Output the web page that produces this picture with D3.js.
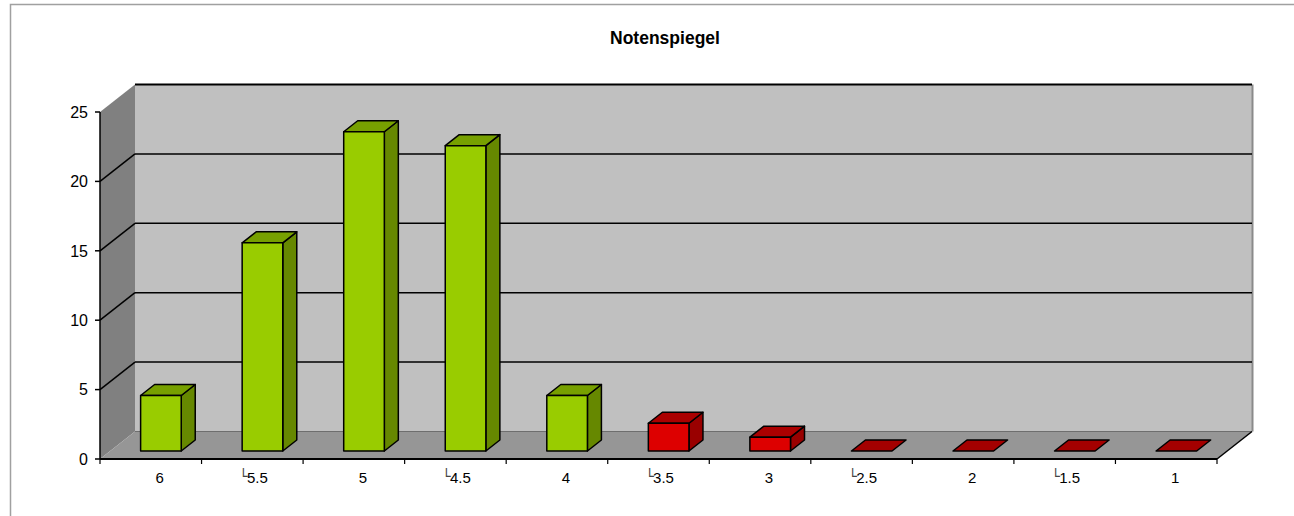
<!DOCTYPE html>
<html>
<head>
<meta charset="utf-8">
<script src="https://cdn.jsdelivr.net/npm/d3@7/dist/d3.min.js"></script>
<style>
  html, body { margin: 0; padding: 0; background: #fff; }
  svg { display: block; font-family: Arial, "Liberation Sans", sans-serif; }
</style>
</head>
<body>
<svg id="chart" width="1294" height="516"></svg>
<script>
// ---- data ----
const title = "Notenspiegel";
const categories = ["6", "\u25145.5", "5", "\u25144.5", "4", "\u25143.5", "3", "\u25142.5", "2", "\u25141.5", "1"];
const values = [4, 15, 23, 22, 4, 2, 1, 0, 0, 0, 0];
const yTicks = [0, 5, 10, 15, 20, 25];
const passMark = 4;

// ---- layout ----
const W = 1294, H = 516;
const plot = { left: 100, right: 1217, bottom: 459, top: 112 };
const depth = { dx: 35, dy: -27.5 };
const barFront = 0.29, barBack = 0.69;

const svg = d3.select("#chart");

const x = d3.scaleBand().domain(categories)
  .range([plot.left, plot.right]).paddingInner(0.6).paddingOuter(0.3);
const y = d3.scaleLinear().domain([0, 25]).range([plot.bottom, plot.top]);

const pts = a => a.map(p => p.join(",")).join(" ");

// outer frame
svg.append("path").attr("d", `M10.5,${H} V4.5 H${W}`)
  .attr("fill", "none").attr("stroke", "#a0a0a0").attr("stroke-width", 1.5);

// title
svg.append("text").attr("x", 665).attr("y", 44).attr("text-anchor", "middle")
  .attr("font-weight", "bold").attr("font-size", 17.5).attr("fill", "#000").text(title);

const L = plot.left, R = plot.right, B = plot.bottom, T = y(25);
const dx = depth.dx, dy = depth.dy;

// back wall
svg.append("polygon").attr("points", pts([[L+dx, T+dy], [R+dx, T+dy], [R+dx, B+dy], [L+dx, B+dy]]))
  .attr("fill", "#c0c0c0");
// side wall
svg.append("polygon").attr("points", pts([[L, T], [L+dx, T+dy], [L+dx, B+dy], [L, B]]))
  .attr("fill", "#808080");
// floor
svg.append("polygon").attr("points", pts([[L, B], [R, B], [R+dx, B+dy], [L+dx, B+dy]]))
  .attr("fill", "#969696");
// back floor edge
svg.append("line").attr("x1", L+dx).attr("x2", R+dx).attr("y1", B+dy).attr("y2", B+dy)
  .attr("stroke", "#6e6e6e").attr("stroke-width", 1.2);
// back wall right edge
svg.append("line").attr("x1", R+dx+0.5).attr("x2", R+dx+0.5).attr("y1", T+dy).attr("y2", B+dy)
  .attr("stroke", "#8a8a8a").attr("stroke-width", 2);

// gridlines
yTicks.filter(v => v > 0).forEach(v => {
  const yy = y(v);
  svg.append("line").attr("x1", L+dx).attr("x2", R+dx).attr("y1", yy+dy).attr("y2", yy+dy)
    .attr("stroke", "#000").attr("stroke-width", v === 25 ? 2 : 1.5);
  if (v < 25) {
    svg.append("line").attr("x1", L).attr("x2", L+dx).attr("y1", yy).attr("y2", yy+dy)
      .attr("stroke", "#000").attr("stroke-width", 1.5);
  }
});

// floor front & right edges
svg.append("line").attr("x1", L).attr("x2", R).attr("y1", B).attr("y2", B)
  .attr("stroke", "#000").attr("stroke-width", 2);
svg.append("line").attr("x1", R).attr("x2", R+dx).attr("y1", B).attr("y2", B+dy)
  .attr("stroke", "#000").attr("stroke-width", 1.5);

// bars
const colors = {
  pass: { front: "#99cc00", top: "#77a000", side: "#668800" },
  fail: { front: "#dd0000", top: "#aa0000", side: "#990000" }
};
const bars = svg.append("g");
categories.forEach((c, i) => {
  const v = values[i];
  const grade = parseFloat(c.replace("\u2514", ""));
  const col = grade >= passMark ? colors.pass : colors.fail;
  const fx = x(c) + dx * barFront, fy = dy * barFront;
  const bw = x.bandwidth();
  const ox = dx * (barBack - barFront), oy = dy * (barBack - barFront);
  const x0 = fx, x1 = fx + bw;
  const yb = y(0) + fy, yt = y(v) + fy;
  const g = bars.append("g").attr("stroke", "#000").attr("stroke-width", 1.5).attr("stroke-linejoin", "round");
  if (v > 0) {
    g.append("polygon").attr("points", pts([[x1, yt], [x1+ox, yt+oy], [x1+ox, yb+oy], [x1, yb]])).attr("fill", col.side);
    g.append("polygon").attr("points", pts([[x0, yt], [x0+ox, yt+oy], [x1+ox, yt+oy], [x1, yt]])).attr("fill", col.top);
    g.append("rect").attr("x", x0).attr("y", yt).attr("width", bw).attr("height", yb - yt).attr("fill", col.front);
  } else {
    g.append("polygon").attr("points", pts([[x0, yt], [x0+ox, yt+oy], [x1+ox, yt+oy], [x1, yt]])).attr("fill", "#a40000");
  }
});

// value axis
svg.append("line").attr("x1", L).attr("x2", L).attr("y1", T).attr("y2", B)
  .attr("stroke", "#000").attr("stroke-width", 1.5);
yTicks.forEach(v => {
  svg.append("line").attr("x1", L-5).attr("x2", L).attr("y1", y(v)).attr("y2", y(v))
    .attr("stroke", "#000").attr("stroke-width", 1.5);
  svg.append("text").attr("x", 88).attr("y", y(v)).attr("dy", "0.36em")
    .attr("text-anchor", "end").attr("font-size", 16).attr("fill", "#000").text(v);
});

// category axis ticks
const step = x.step();
d3.range(categories.length + 1).forEach(i => {
  const xx = L + i * step;
  svg.append("line").attr("x1", xx).attr("x2", xx).attr("y1", B).attr("y2", B + 5)
    .attr("stroke", "#000").attr("stroke-width", 1.2);
});

// category labels
categories.forEach(c => {
  const cx = x(c) + x.bandwidth() / 2;
  if (c.startsWith("\u2514")) {
    const num = c.slice(1);
    const t = svg.append("text").attr("x", cx + 5).attr("y", 483)
      .attr("text-anchor", "middle").attr("font-size", 15).attr("fill", "#000").text(num);
    const w = t.node().getComputedTextLength();
    svg.append("text").attr("x", cx + 5 - w / 2 + 0.5).attr("y", 481)
      .attr("text-anchor", "end").attr("font-size", 14)
      .attr("font-family", "DejaVu Sans").attr("fill", "#444").text("\u2514");
  } else {
    svg.append("text").attr("x", cx + 9).attr("y", 483)
      .attr("text-anchor", "middle").attr("font-size", 15).attr("fill", "#000").text(c);
  }
});
</script>
</body>
</html>
